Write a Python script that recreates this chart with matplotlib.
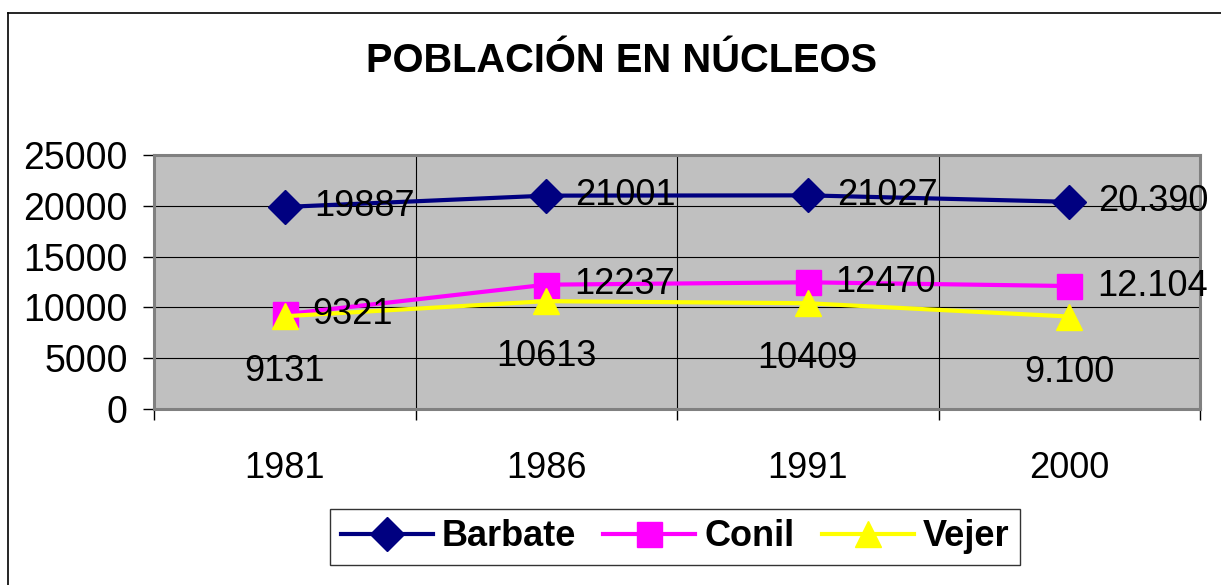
import numpy as np
import matplotlib.pyplot as plt
from matplotlib.lines import Line2D

plt.rcParams['font.family'] = ['Liberation Sans', 'DejaVu Sans']

years = ['1981', '1986', '1991', '2000']
barbate = [19887, 21001, 21027, 20390]
conil = [9321, 12237, 12470, 12104]
vejer = [9131, 10613, 10409, 9100]
barbate_lbl = ['19887', '21001', '21027', '20.390']
conil_lbl = ['9321', '12237', '12470', '12.104']
vejer_lbl = ['9131', '10613', '10409', '9.100']

fig = plt.figure(figsize=(12.21, 5.85), dpi=100)
ax = fig.add_axes([154 / 1221, 1 - 409 / 585, 1046 / 1221, 254 / 585])
ax.set_facecolor('#C0C0C0')

x = np.arange(len(years))
ax.plot(x, barbate, color='#000080', lw=3, marker='D', ms=17, label='Barbate', zorder=3)
ax.plot(x, conil, color='#FF00FF', lw=3, marker='s', ms=18, label='Conil', zorder=3)
ax.plot(x, vejer, color='#FFFF00', lw=3, marker='^', ms=19, label='Vejer', zorder=3)

for i in x:
    ax.annotate(barbate_lbl[i], (i, barbate[i]), xytext=(21, 0), textcoords='offset points',
                ha='left', va='center', fontsize=26, zorder=4)
    ax.annotate(conil_lbl[i], (i, conil[i]), xytext=(20, 0), textcoords='offset points',
                ha='left', va='center', fontsize=26, zorder=4)
    ax.annotate(vejer_lbl[i], (i, vejer[i]), xytext=(0, -40), textcoords='offset points',
                ha='center', va='center', fontsize=26, zorder=4)

ax.set_xlim(-0.5, len(years) - 0.5)
ax.set_ylim(0, 25000)
ax.set_yticks(np.arange(0, 25001, 5000))
ax.tick_params(axis='y', labelsize=27, length=8, width=1, direction='out', pad=11)
ax.set_xticks(np.arange(-0.5, len(years), 1.0))
ax.set_xticklabels([])
ax.set_xticks(x, minor=True)
ax.set_xticklabels(years, minor=True)
ax.tick_params(axis='x', which='major', length=8, width=1, direction='out')
ax.tick_params(axis='x', which='minor', length=0, labelsize=26, pad=30)

ax.grid(True, which='major', color='black', lw=0.8)
ax.set_axisbelow(True)
for s in ax.spines.values():
    s.set_color('#808080')
    s.set_linewidth(2.2)

fig.text(621 / 1221, 1 - 61 / 585, 'POBLACIÓN EN NÚCLEOS', ha='center', va='center',
         fontsize=28.7, fontweight='bold')

# chart frame (left/top edges visible)
fig.add_artist(Line2D([8 / 1221, 8 / 1221], [0, 1 - 13 / 585], color='black', lw=1.2, transform=fig.transFigure))
fig.add_artist(Line2D([8 / 1221, 1], [1 - 13 / 585, 1 - 13 / 585], color='black', lw=1.2, transform=fig.transFigure))

leg = fig.legend(loc='center', bbox_to_anchor=(675 / 1221, 1 - 537 / 585), ncol=3,
                 prop={'size': 26, 'weight': 'bold'}, frameon=True, fancybox=False,
                 edgecolor='black', handlelength=2.55, handletextpad=0.25,
                 columnspacing=0.75, borderpad=0.3)
leg.get_frame().set_linewidth(1)

fig.savefig('out.png', dpi=100)
